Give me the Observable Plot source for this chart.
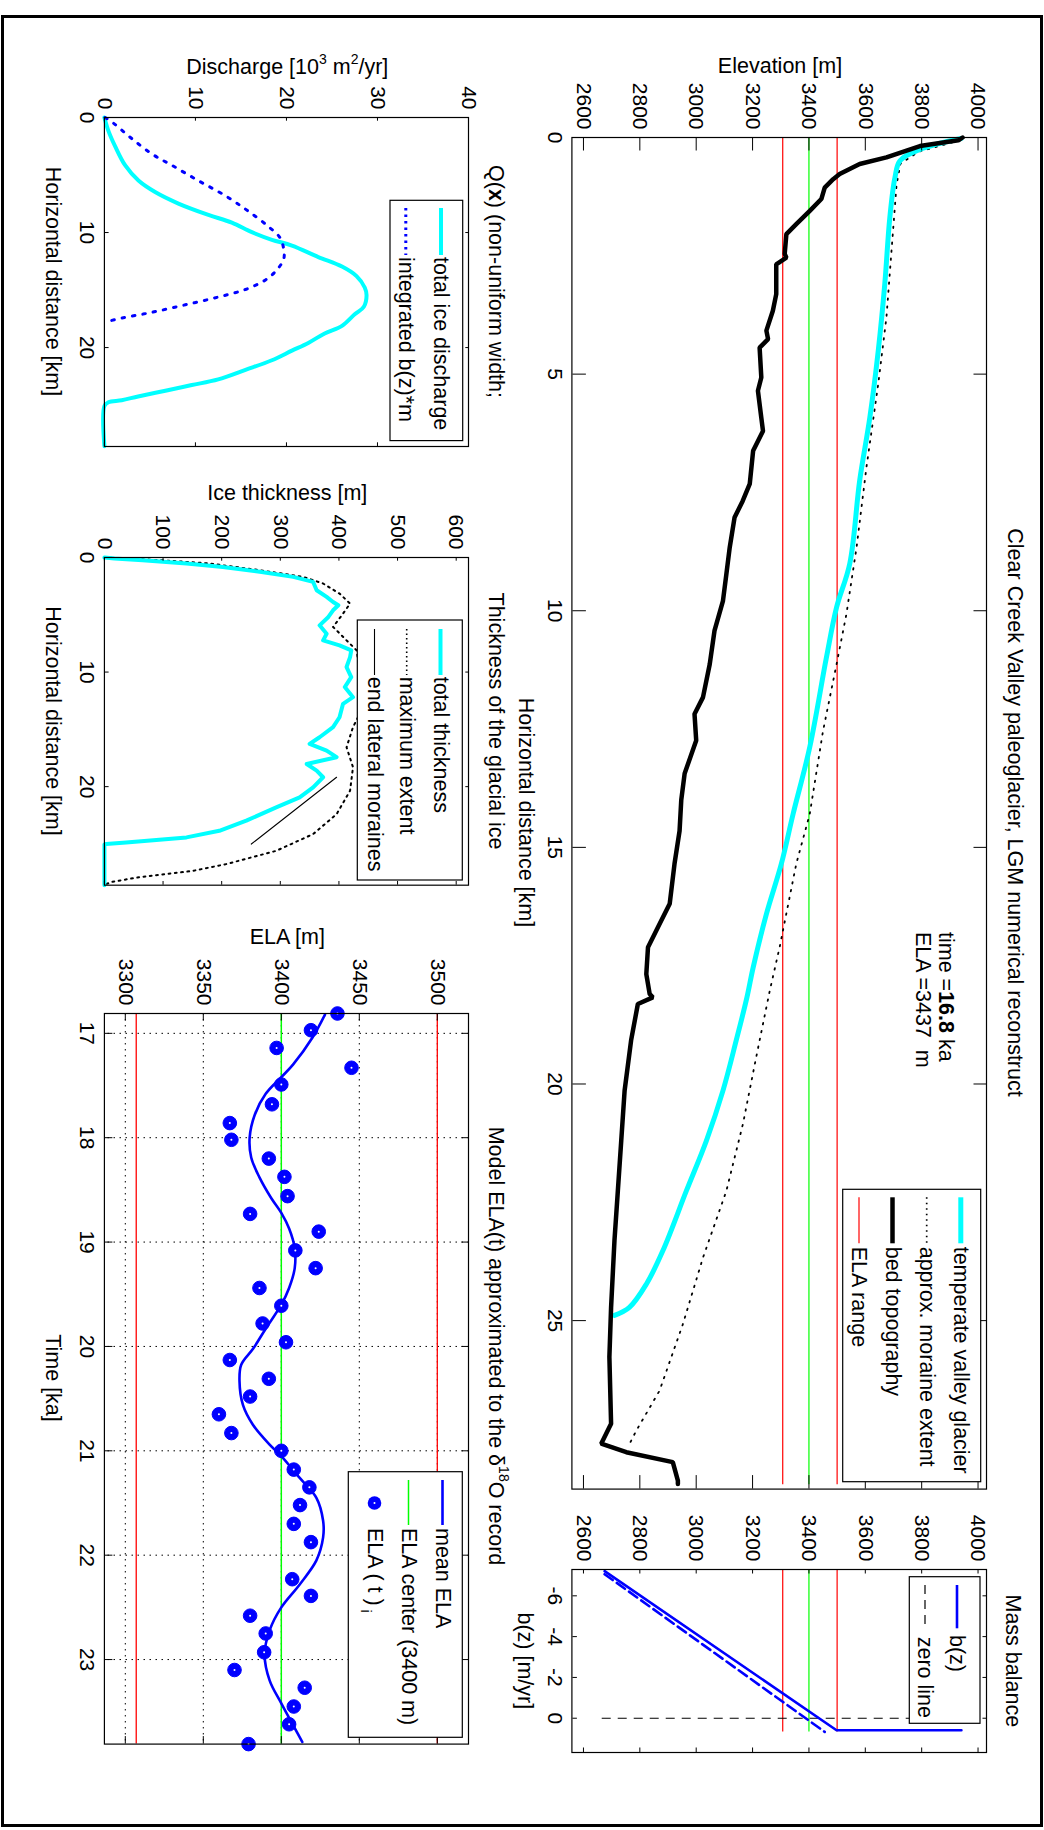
<!DOCTYPE html>
<html><head><meta charset="utf-8">
<script src="https://cdn.jsdelivr.net/npm/d3@7"></script>
<script src="https://cdn.jsdelivr.net/npm/@observablehq/plot@0.6"></script>
<style>
html,body{margin:0;padding:0;background:#fff;}
body{width:1044px;height:1830px;overflow:hidden;position:relative;font-family:"Liberation Sans",Arial,sans-serif;}
#frame{position:absolute;left:1px;top:15px;width:1042px;height:1812px;border:3px solid #000;box-sizing:border-box;}
#land{position:absolute;left:0;top:0;width:1830px;height:1044px;transform-origin:0 0;transform:translate(1044px,0) rotate(90deg);}
</style></head><body>
<div id="frame"></div>
<div id="land"></div>
<script>
// ---------- Elevation profile (distance km, elevation m) ----------
const bedKm = [0.00,0.06,0.18,0.42,0.56,0.77,0.88,1.06,1.30,1.55,1.83,2.04,2.46,2.54,2.68,3.31,3.66,4.08,4.26,4.44,5.07,5.35,5.92,6.20,6.62,7.32,7.68,8.03,8.66,9.23,9.79,10.42,11.13,11.83,12.18,12.74,13.44,14.0,14.65,15.35,16.19,16.62,17.11,17.68,18.10,18.17,18.31,19.08,20.14,21.2,22.26,23.31,24.72,25.77,27.18,27.6,27.78,27.99,28.38,28.45];
const bedZ  = [3945,3930,3794,3675,3580,3509,3486,3456,3444,3403,3355,3320,3314,3320,3284,3284,3272,3249,3255,3225,3231,3219,3231,3237,3202,3190,3165,3136,3119,3107,3095,3065,3048,3024,2994,3000,2959,2947,2941,2923,2906,2870,2829,2823,2835,2846,2793,2769,2746,2734,2722,2710,2698,2692,2698,2663,2752,2917,2935,2935];
const glacierKm = [0.02,0.25,0.49,0.85,1.69,3.1,4.5,5.92,7.25,9.0,9.93,10.99,12.88,14.29,15.35,16.41,17.54,18.17,19.08,20.14,21.2,22.26,23.52,24.23,24.72,24.89];
const glacierZ  = [3940,3794,3723,3705,3687,3669,3646,3616,3580,3545,3498,3462,3403,3344,3302,3249,3202,3180,3142,3095,3036,2965,2882,2823,2763,2710];
const moraineKm = [0.06,0.3,0.55,0.99,2.39,3.8,5.2,6.97,8.66,10.07,11.13,12.54,14.29,15.35,17.11,18.03,19.43,20.84,22.26,23.67,25.07,26.48,27.33,27.68];
const moraineZ  = [3936,3790,3725,3711,3693,3675,3646,3604,3569,3533,3498,3450,3403,3355,3296,3261,3213,3166,3107,3024,2953,2870,2787,2757];
const elaRange = [3307, 3500];
const elaCenter = [3400];
const profileExtent = [0, 28.47];

// ---------- Mass balance b(z) ----------
const bSolid = [-7.21, 0.59, 0.59];
const zSolid = [2675, 3498, 3941];
const bDash = [-7.06, 0.67];
const zDash = [2675, 3456];
const zeroLineZ = [2663, 3941];
const bExtent = [-7.25, 0.67];

// ---------- Discharge ----------
const qKm = [0,1.16,2.49,4.15,5.48,6.48,7.48,8.47,9.14,9.97,10.63,11.13,12.13,12.96,13.79,14.78,15.45,16.45,17.11,18.11,18.77,19.6,20.27,21.1,21.93,22.76,23.26,23.75,24.25,24.58,24.75,25.08,28.57];
const qTotal = [0,0.44,1.17,2.27,3.74,5.57,8.13,11.43,14.0,16.2,18.4,20.6,23.5,26.1,27.7,28.6,28.8,28.5,27.5,26.1,24.2,22.4,20.6,18.4,15.5,12.5,9.6,6.7,3.7,1.9,0.44,0,0];
const bmKm = [0,0.5,1.83,3.16,4.15,5.48,6.81,8.14,9.47,10.46,11.46,12.3,13.29,14.12,14.95,15.61,16.28,16.94,17.44,17.71];
const bmQ  = [0.07,1.0,3.0,5.2,7.4,10.3,13.3,15.8,18.0,19.3,19.7,19.7,18.9,17.7,15.5,12.5,8.9,5.2,1.9,0.44];

// ---------- Ice thickness ----------
const thKm = [0,0.09,0.23,0.52,0.82,1.25,1.69,2.13,2.86,3.44,3.88,4.17,4.61,5.19,5.92,6.65,7.23,7.67,8.1,8.69,9.56,10.44,11.31,12.19,12.77,13.94,14.81,15.69,16.27,16.85,17.43,18.02,18.6,19.18,20.06,20.93,21.81,22.97,23.85,24.43,24.87,25.01,25.05,28.6];
const thTotal = [0,17,65,140,202,265,322,356,362,379,390,399,390,382,367,379,373,401,421,419,413,421,410,424,407,401,390,367,350,379,396,345,362,373,356,333,293,242,196,140,37,3,0,0];
const maxKm = [0,0.09,0.23,0.52,1.11,1.69,2.27,3.15,4.02,4.9,6.06,7.23,8.1,10,12,14,14.8,16.56,18.3,20.35,22.4,24.14,25.6,26.76,27.35,27.9,28.3,28.55];
const maxTh = [0,37,94,179,265,339,373,401,419,407,390,413,430,436,438,432,424,413,424,419,396,356,293,208,151,60,14,0];
const latKm = [19.18, 25.01];
const latTh = [396, 250.6];

// ---------- ELA(t) ----------
const elaT = [16.81,16.97,17.14,17.33,17.49,17.68,17.86,18.02,18.20,18.375,18.56,18.73,18.90,19.08,19.25,19.44,19.61,19.78,19.96,20.13,20.31,20.48,20.65,20.83,21.00,21.18,21.35,21.52,21.70,21.875,22.23,22.39,22.58,22.75,22.93,23.10,23.27,23.45,23.62,23.81];
const elaV = [3436,3419,3397,3445,3400,3394,3367,3368,3392,3402,3404,3380,3424,3409,3422,3386,3400,3388,3403,3367,3392,3380,3360,3368,3400,3408,3418,3412,3408,3419,3407,3419,3380,3390,3389,3370,3415,3408,3405,3379];
const meanT = [16.82,17.04,17.3,17.42,17.58,17.78,18.0,18.19,18.38,18.58,18.72,18.87,19.06,19.25,19.44,19.6,19.83,20.02,20.175,20.33,20.56,20.75,20.94,21.05,21.26,21.45,21.67,21.83,22.05,22.28,22.5,22.72,22.95,23.2,23.42,23.79];
const meanV = [3428,3420,3407.5,3400,3390,3383,3379.7,3380.7,3386,3393.6,3400,3405,3408.6,3408.6,3405,3400,3390,3382,3374.3,3373.2,3375.4,3381.8,3392.5,3400,3411.8,3422.5,3426.8,3426.8,3422.5,3411.8,3400,3392.5,3389.3,3392.5,3400,3413.5];

// ---------- Ticks ----------
const km5Ticks = [0,5,10,15,20,25];
const elevTicks = [2600,2800,3000,3200,3400,3600,3800,4000];
const bTicks = [-6,-4,-2,0];
const km10Ticks = [0,10,20];
const qTicks = [0,10,20,30,40];
const thTicks = [0,100,200,300,400,500,600];
const timeTicks = [17,18,19,20,21,22,23];
const elaTicks = [3300,3350,3400,3450,3500];

// ---------- drawing ----------
const FONT = '"Liberation Sans", Arial, Helvetica, sans-serif';
const land = document.getElementById("land");
const seq = a => ({length: a.length});
const CYAN = "#00ffff", BLUE = "#0000ff", RED = "#ff0000", GREEN = "#00ff00";

function panel({box, xDomain, yDomain, xTicks, yTicks, tick, marks, grid = false}) {
  const [x0, y0, x1, y1] = box, m = 70, w = x1 - x0, h = y1 - y0;
  const fmt = d => String(d);
  const all = [];
  if (grid) {
    all.push(Plot.gridX(xTicks, {stroke: "#000", strokeOpacity: 1, strokeDasharray: "1.5,4.5"}));
    all.push(Plot.gridY(yTicks, {stroke: "#000", strokeOpacity: 1, strokeDasharray: "1.5,4.5"}));
  }
  all.push(...marks);
  all.push(
    Plot.tickX(xTicks, {insetTop: h - tick, stroke: "#000"}),
    Plot.tickX(xTicks, {insetBottom: h - tick, stroke: "#000"}),
    Plot.tickY(yTicks, {insetRight: w - tick, stroke: "#000"}),
    Plot.tickY(yTicks, {insetLeft: w - tick, stroke: "#000"}),
    Plot.axisX(xTicks, {anchor: "bottom", tickSize: 0, tickPadding: 9, tickFormat: fmt, label: null, fontSize: 21, fill: "#000"}),
    Plot.axisY(yTicks, {anchor: "left", tickSize: 0, tickPadding: 8, tickFormat: fmt, label: null, fontSize: 21, fill: "#000"}),
    Plot.frame({stroke: "#000", strokeWidth: 1.2})
  );
  const svg = Plot.plot({
    width: w + 2 * m, height: h + 2 * m,
    marginTop: m, marginRight: m, marginBottom: m, marginLeft: m,
    x: {domain: xDomain}, y: {domain: yDomain},
    style: {fontFamily: FONT, fontSize: "21px", background: "transparent", overflow: "visible", color: "#000"},
    marks: all
  });
  svg.style.position = "absolute";
  svg.style.left = (x0 - m) + "px";
  svg.style.top = (y0 - m) + "px";
  svg.style.maxWidth = "none";
  land.appendChild(svg);
}

// Elevation profile
panel({
  box: [136.7, 56.7, 1488.3, 471.3], xDomain: [0, 28.56], yDomain: [2559, 4030],
  xTicks: km5Ticks, yTicks: elevTicks, tick: 13.5,
  marks: [
    Plot.ruleY(elaRange, {x1: profileExtent[0], x2: profileExtent[1], stroke: RED, strokeWidth: 1.2}),
    Plot.ruleY(elaCenter, {x1: profileExtent[0], x2: profileExtent[1], stroke: GREEN, strokeWidth: 1.2}),
    Plot.line(seq(moraineKm), {x: moraineKm, y: moraineZ, stroke: "#000", strokeWidth: 1.8, strokeDasharray: "1.5,6.5"}),
    Plot.line(seq(glacierKm), {x: glacierKm, y: glacierZ, stroke: CYAN, strokeWidth: 5, curve: "catmull-rom"}),
    Plot.line(seq(bedKm), {x: bedKm, y: bedZ, stroke: "#000", strokeWidth: 4.5, strokeLinejoin: "miter"})
  ]
});

// Mass balance
panel({
  box: [1569.3, 56.7, 1752.3, 471.3], xDomain: [-7.29, 1.68], yDomain: [2559, 4030],
  xTicks: bTicks, yTicks: elevTicks, tick: 4.5,
  marks: [
    Plot.ruleY(elaRange, {x1: bExtent[0], x2: bExtent[1], stroke: RED, strokeWidth: 1.2}),
    Plot.ruleY(elaCenter, {x1: bExtent[0], x2: bExtent[1], stroke: GREEN, strokeWidth: 1.2}),
    Plot.ruleX([0], {y1: zeroLineZ[0], y2: zeroLineZ[1], stroke: "#000", strokeWidth: 1.2, strokeDasharray: "9,7"}),
    Plot.line(seq(bDash), {x: bDash, y: zDash, stroke: BLUE, strokeWidth: 2.6, strokeDasharray: "10,5"}),
    Plot.line(seq(bSolid), {x: bSolid, y: zSolid, stroke: BLUE, strokeWidth: 2.6})
  ]
});

// Discharge
panel({
  box: [117, 574.7, 446, 938.8], xDomain: [0, 28.6], yDomain: [0, 40],
  xTicks: km10Ticks, yTicks: qTicks, tick: 3.7,
  marks: [
    Plot.line(seq(qKm), {x: qKm, y: qTotal, stroke: CYAN, strokeWidth: 4, curve: "catmull-rom"}),
    Plot.line(seq(bmKm), {x: bmKm, y: bmQ, stroke: BLUE, strokeWidth: 3, strokeDasharray: "2.5,8", curve: "catmull-rom"})
  ]
});

// Ice thickness
panel({
  box: [557.3, 574.7, 885, 938.8], xDomain: [0, 28.6], yDomain: [0, 621],
  xTicks: km10Ticks, yTicks: thTicks, tick: 3.7,
  marks: [
    Plot.line(seq(maxKm), {x: maxKm, y: maxTh, stroke: "#000", strokeWidth: 2, strokeDasharray: "1.8,4.5"}),
    Plot.line(seq(thKm), {x: thKm, y: thTotal, stroke: CYAN, strokeWidth: 4}),
    Plot.line(seq(latKm), {x: latKm, y: latTh, stroke: "#000", strokeWidth: 1.1})
  ]
});

// ELA(t)
panel({
  box: [1012.7, 574.7, 1743.3, 938.8], xDomain: [16.81, 23.81], yDomain: [3286.6, 3520],
  xTicks: timeTicks, yTicks: elaTicks, tick: 7.5, grid: true,
  marks: [
    Plot.ruleY(elaRange, {stroke: RED, strokeWidth: 1.3}),
    Plot.ruleY(elaCenter, {stroke: GREEN, strokeWidth: 1.5}),
    Plot.line(seq(meanT), {x: meanT, y: meanV, stroke: BLUE, strokeWidth: 2.6, curve: "catmull-rom"}),
    Plot.dot(seq(elaT), {x: elaT, y: elaV, r: 6.8, fill: BLUE, stroke: BLUE, strokeWidth: 1}),
    Plot.dot(seq(elaT), {x: elaT, y: elaV, r: 1, fill: "#fff"})
  ]
});

// ---------- overlay: titles, labels, legends ----------
const ov = d3.select(land).append("svg")
  .attr("width", 1830).attr("height", 1044)
  .style("position", "absolute").style("left", "0px").style("top", "0px").style("overflow", "visible")
  .style("font-family", FONT).style("font-size", "21.5px").attr("fill", "#000");

function txt(x, y, html, {rotate = false, anchor = "middle"} = {}) {
  const t = ov.append("text").attr("x", x).attr("y", y).attr("text-anchor", anchor)
    .attr("dominant-baseline", "central").attr("xml:space", "preserve").html(html);
  if (rotate) t.attr("transform", `rotate(-90 ${x} ${y})`);
  return t;
}
const sup = s => `<tspan dy="-8" font-size="14">${s}</tspan>`;

txt(812.5, 29, "Clear Creek Valley paleoglacier, LGM numerical reconstruct");
txt(1660.8, 31, "Mass balance");
txt(66, 264, "Elevation [m]", {rotate: true});
txt(812.5, 518, "Horizontal distance [km]");
txt(1660.8, 519, "b(z) [m/yr]");
txt(932, 98, `time =<tspan font-weight="bold">16.8</tspan> ka`, {anchor: "start"});
txt(932, 121.5, "ELA =3437  m", {anchor: "start"});

txt(67, 756.7, `Discharge [10${sup("3")}<tspan dy="8"> m</tspan>${sup("2")}<tspan dy="8">/yr]</tspan>`, {rotate: true});
txt(281.5, 548, `Q(<tspan font-weight="bold">x</tspan>) (non-uniform width;`);
txt(281.5, 991.5, "Horizontal distance [km]");
txt(493, 756.7, "Ice thickness [m]", {rotate: true});
txt(721, 548, "Thickness of the glacial ice");
txt(721, 991.5, "Horizontal distance [km]");
txt(937, 756.7, "ELA [m]", {rotate: true});
txt(1346, 548, `Model ELA(t) approximated to the δ${sup("18")}<tspan dy="8">O record</tspan>`);
txt(1378, 991.5, "Time [ka]");

function legendBox(x0, y0, x1, y1) {
  ov.append("rect").attr("x", x0).attr("y", y0).attr("width", x1 - x0).attr("height", y1 - y0)
    .attr("fill", "#fff").attr("stroke", "#000").attr("stroke-width", 1.2);
}
function legLine(x0, x1, y, stroke, width, dash) {
  const l = ov.append("line").attr("x1", x0).attr("x2", x1).attr("y1", y).attr("y2", y)
    .attr("stroke", stroke).attr("stroke-width", width);
  if (dash) l.attr("stroke-dasharray", dash);
}

// elevation legend
legendBox(1189.3, 63.3, 1481.7, 201.3);
legLine(1197.3, 1243.3, 83.2, CYAN, 5);
legLine(1197.3, 1243.3, 117.3, "#000", 1.7, "1.5,4");
legLine(1197.3, 1243.3, 151.5, "#000", 4.5);
legLine(1197.3, 1243.3, 185, RED, 1.2);
txt(1246.7, 83.2, "temperate valley glacier", {anchor: "start"});
txt(1246.7, 117.3, "approx. moraine extent", {anchor: "start"});
txt(1246.7, 151.5, "bed topography", {anchor: "start"});
txt(1246.7, 185, "ELA range", {anchor: "start"});

// mass balance legend
legendBox(1576.7, 64, 1723.3, 134.7);
legLine(1585, 1628.3, 87, BLUE, 2.6);
legLine(1585, 1628.3, 119, "#000", 1.2, "9,6");
txt(1635, 87, "b(z)", {anchor: "start"});
txt(1636.7, 119, "zero line", {anchor: "start"});

// discharge legend
legendBox(200.3, 581.3, 440.6, 654);
legLine(208, 255, 603, CYAN, 4);
legLine(208, 255, 638.2, BLUE, 3, "2.5,4");
txt(257, 603, "total ice discharge", {anchor: "start"});
txt(257, 638.2, "integrated b(z)*m", {anchor: "start"});

// thickness legend
legendBox(620, 581.7, 880, 686.7);
legLine(629, 675, 603.5, CYAN, 4);
legLine(629, 675, 637.3, "#000", 1.6, "1.5,3");
legLine(629, 675, 669.5, "#000", 1.1);
txt(676.7, 603.5, "total thickness", {anchor: "start"});
txt(676.7, 637.3, "maximum extent", {anchor: "start"});
txt(676.7, 669.5, "end lateral moraines", {anchor: "start"});

// ELA legend
legendBox(1471.7, 581.7, 1737.3, 695.7);
legLine(1480, 1525, 601.5, BLUE, 2.6);
legLine(1480, 1525, 635.5, GREEN, 1.5);
ov.append("circle").attr("cx", 1503).attr("cy", 669.5).attr("r", 6.8).attr("fill", BLUE);
ov.append("circle").attr("cx", 1503).attr("cy", 669.5).attr("r", 1).attr("fill", "#fff");
txt(1528, 601.5, "mean ELA", {anchor: "start"});
txt(1528, 635.5, "ELA center (3400 m)", {anchor: "start"});
txt(1528, 669.5, `ELA ( t )<tspan dy="9" font-size="14"> i</tspan>`, {anchor: "start"});
</script>
</body></html>
